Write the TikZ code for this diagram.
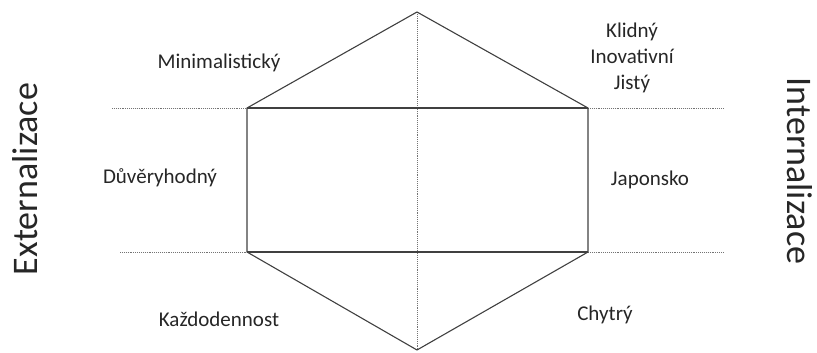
\documentclass[tikz,border=0pt]{standalone}
\usepackage{fontspec}
\setmainfont{Carlito}
\begin{document}
\begin{tikzpicture}[x=1pt,y=-1pt,
  solidline/.style={draw=black!75,line width=1.1pt},
  guide/.style={draw=black!55,line width=0.9pt,densely dotted},
  lbl/.style={font=\fontsize{21}{26}\selectfont,text=black!85,align=center,inner sep=0pt},
  axislbl/.style={font=\fontsize{36}{40}\selectfont,text=black!85,inner sep=0pt}]
\useasboundingbox (0,0) rectangle (817,353);
\coordinate (T) at (417,12);
\coordinate (UL) at (247,108);
\coordinate (UR) at (588,108);
\coordinate (LL) at (247,252);
\coordinate (LR) at (588,252);
\coordinate (B) at (417,350);
\coordinate (G1a) at (112,108);
\coordinate (G1b) at (723,108);
\coordinate (G2a) at (120,252);
\coordinate (G2b) at (723,252);
\draw[guide] (G1a) -- (UL);
\draw[guide] (UR) -- (G1b);
\draw[guide] (G2a) -- (LL);
\draw[guide] (LR) -- (G2b);
\draw[guide] (T) -- (B);
\draw[solidline,line join=miter] (T) -- (UR) -- (LR) -- (B) -- (LL) -- (UL) -- cycle;
\draw[solidline] (UL) -- (UR);
\draw[solidline] (LL) -- (LR);
\node[lbl] (min) at (219,63) {Minimalistický};
\node[lbl] (klid) at (632,58) {Klidný\\Inovativní\\Jistý};
\node[lbl] (duv) at (160,178) {Důvěryhodný};
\node[lbl] (jap) at (650,180) {Japonsko};
\node[lbl] (kaz) at (219,319) {Každodennost};
\node[lbl] (chy) at (605,315) {Chytrý};
\node[axislbl,rotate=90] (ext) at (25,179) {Externalizace};
\node[axislbl,rotate=-90] (int) at (800,171) {Internalizace};
\end{tikzpicture}
\end{document}
